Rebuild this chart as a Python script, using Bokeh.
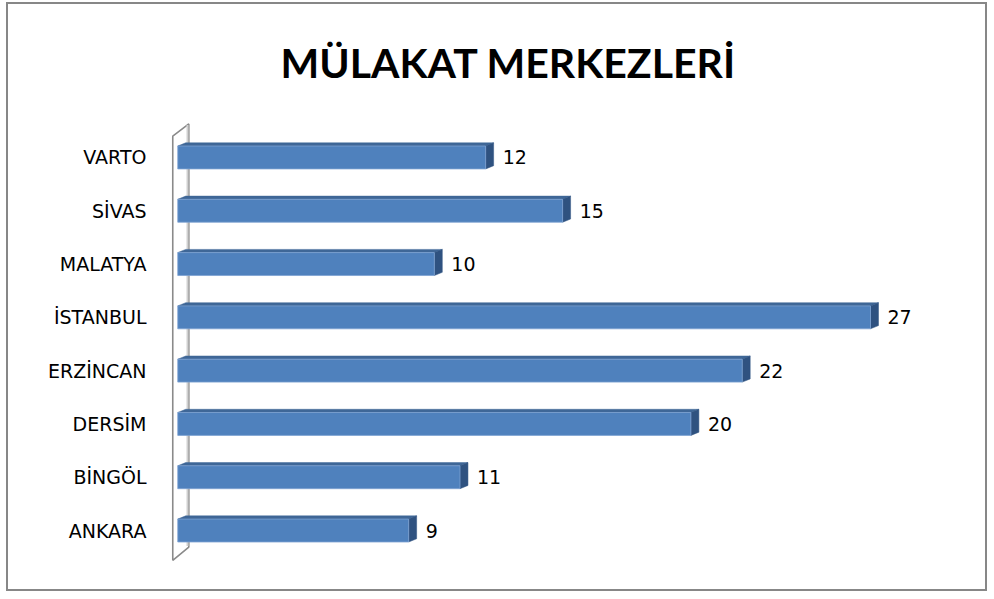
from bokeh.plotting import figure
from bokeh.models import Range1d, ColumnDataSource
from bokeh.core.properties import value
from bokeh.embed import file_html
from bokeh.resources import INLINE

# ---- data (bottom to top) ----
categories = ["ANKARA", "BİNGÖL", "DERSİM", "ERZİNCAN", "İSTANBUL", "MALATYA", "SİVAS", "VARTO"]
counts = [9, 11, 20, 22, 27, 10, 15, 12]
title_text = "MÜLAKAT MERKEZLERİ"

ys = list(range(len(categories)))
H = 0.43      # bar thickness (category units)
DX = 0.31     # 3D depth along x (value units)
DY = 0.06     # 3D depth along y (category units)

p = figure(width=981, height=589, output_backend="svg", toolbar_location=None,
           x_range=Range1d(-0.4, 30), y_range=Range1d(-0.75, 7.75),
           min_border_left=159, min_border_right=42, min_border_top=112, min_border_bottom=23)
p.styles = {"border": "2px solid #878787", "margin-left": "6px", "margin-top": "2px"}
p.outline_line_color = None
p.xgrid.visible = False
p.ygrid.visible = False
p.xaxis.visible = False
p.background_fill_color = "white"
p.border_fill_color = "white"

p.title.text = title_text
p.title.align = "left"
p.title.offset = 113
p.title.standoff = 62
p.title.text_font = "Lato"
p.title.text_font_style = "bold"
p.title.text_font_size = "41px"
p.title.text_color = "black"

# ---- back wall (3D axis wall) ----
y0, y1 = p.y_range.start, p.y_range.end
wx_front, wx_back = -0.195, 0.43
wall_x = [wx_front, wx_front, wx_back, wx_back]
wall_y = [y0 + 0.19, y1 - 0.35, y1 - 0.12, y0 + 0.44]
p.patch(wall_x, wall_y, fill_color="white", line_color="#8a8a8a", line_width=1.6)
p.line([wx_back - 0.05, wx_back - 0.05], [y0 + 0.46, y1 - 0.14], line_color="#d0d0d0", line_width=2)

# ---- bars ----
src = ColumnDataSource(dict(y=ys, v=counts, lab=[str(c) for c in counts]))
top_xs, top_ys, side_xs, side_ys = [], [], [], []
for y, v in zip(ys, counts):
    t = y + H / 2
    b = y - H / 2
    top_xs.append([0, v, v + DX, DX])
    top_ys.append([t, t, t + DY, t + DY])
    side_xs.append([v, v + DX, v + DX, v])
    side_ys.append([b, b + DY, t + DY, t])
p.patches(top_xs, top_ys, fill_color="#3f6797", line_color="#3f6797", line_width=0.5)
p.patches(side_xs, side_ys, fill_color="#2f5280", line_color="#2f5280", line_width=0.5)
p.hbar(y="y", left=0, right="v", height=H, source=src, fill_color="#4f81bd",
       line_color="#7ea2d2", line_width=0.8)

# value labels
p.text(x="v", y="y", text="lab", source=src, x_offset=17, text_baseline="middle",
       text_align="left", text_font=value("DejaVu Sans"), text_font_size="19px",
       text_color="black")

# ---- y axis labels ----
p.yaxis.ticker = ys
p.yaxis.major_label_overrides = {y: c for y, c in zip(ys, categories)}
p.yaxis.axis_line_color = None
p.yaxis.major_tick_line_color = None
p.yaxis.minor_tick_line_color = None
p.yaxis.major_tick_out = 0
p.yaxis.major_tick_in = 0
p.yaxis.major_label_standoff = 21
p.yaxis.major_label_text_font = "DejaVu Sans"
p.yaxis.major_label_text_font_size = "19px"
p.yaxis.major_label_text_color = "black"

open("out.html", "w").write(file_html(p, INLINE))
